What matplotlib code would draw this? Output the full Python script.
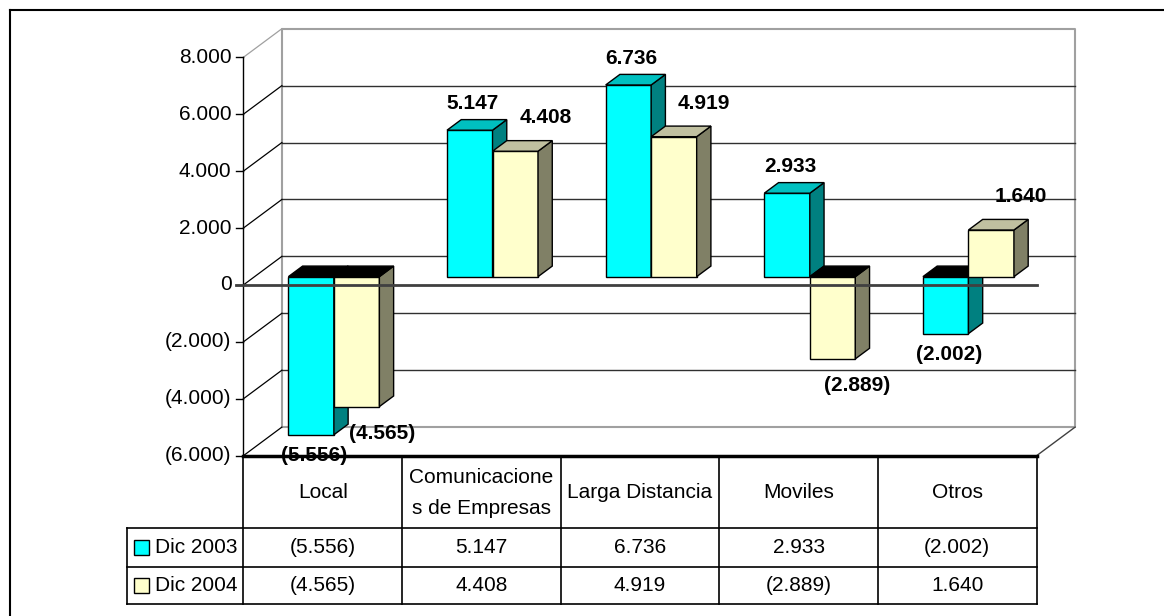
import matplotlib
matplotlib.use('Agg')
import matplotlib.pyplot as plt
from matplotlib.patches import Polygon, Rectangle
from matplotlib.lines import Line2D

# ---------------- data ----------------
categories = ["Local", "Comunicacione\ns de Empresas", "Larga Distancia", "Moviles", "Otros"]
series_names = ["Dic 2003", "Dic 2004"]
dic_2003 = [-5556, 5147, 6736, 2933, -2002]
dic_2004 = [-4565, 4408, 4919, -2889, 1640]
y_ticks = [-6000, -4000, -2000, 0, 2000, 4000, 6000, 8000]

# ---------------- style ----------------
FONT = 'Liberation Sans'
FS = 15
plt.rcParams['font.family'] = [FONT, 'DejaVu Sans']
front_cols = ['#00FFFF', '#FFFFCC']
top_cols = ['#00C0C0', '#C0C0A0']
side_cols = ['#008080', '#808066']


def fmt(v):
    s = f"{abs(v):,.0f}".replace(',', '.')
    return f"({s})" if v < 0 else s


W_PX, H_PX = 1164, 616
fig = plt.figure(figsize=(W_PX / 100, H_PX / 100), dpi=100)

AX_L, AX_R, AX_T, AX_B = 243.4, 1036.6, 57.3, 455.7
ax = fig.add_axes([AX_L / W_PX, 1 - AX_B / H_PX, (AX_R - AX_L) / W_PX, (AX_B - AX_T) / H_PX])
n = len(categories)
ymin, ymax = y_ticks[0], y_ticks[-1]
ax.set_xlim(0, n)
ax.set_ylim(ymin, ymax)
ax.axis('off')

px_per_cat = (AX_R - AX_L) / n
px_per_val = (AX_B - AX_T) / (ymax - ymin)
DX = 38.5 / px_per_cat      # wall depth in category units
DY = 28.6 / px_per_val      # wall depth in value units

# ---------------- walls ----------------
edge_gray = '#a0a0a0'
ax.plot([DX, DX, n + DX, n + DX, DX], [ymin + DY, ymax + DY, ymax + DY, ymin + DY, ymin + DY],
        color=edge_gray, lw=1.5, clip_on=False, zorder=1)
for t in y_ticks[1:-1]:
    ax.plot([DX, n + DX], [t + DY, t + DY], color='#303030', lw=1.0, clip_on=False, zorder=1)
for t in y_ticks:
    c = edge_gray if t == ymax else 'black'
    ax.plot([0, DX], [t, t + DY], color=c, lw=0.9, clip_on=False, zorder=1)
# floor right edge
ax.plot([n, n + DX], [ymin, ymin + DY], color='#404040', lw=1.0, clip_on=False, zorder=1)

# front axis + ticks
ax.plot([0, 0], [ymin, ymax], color='black', lw=1.0, clip_on=False, zorder=2)
tick_len = 7 / px_per_cat
for t in y_ticks:
    ax.plot([-tick_len, 0], [t, t], color='black', lw=1.0, clip_on=False, zorder=2)
    ax.text(-12 / px_per_cat, t, fmt(t), ha='right', va='center', fontsize=FS, clip_on=False)

# ---------------- bars ----------------
bw = 45.5 / px_per_cat
d0, dd = 0.29, 0.37
z = 3
series = [dic_2003, dic_2004]
label_off_pos = [(3, 16), (30, 23)]
label_off_neg = [(3, -21), (25, -27)]
for i in range(n):
    for s, vals in enumerate(series):
        v = vals[i]
        x0 = i + 0.5 - bw + s * bw + d0 * DX
        o0 = d0 * DY
        ddx, ddy = dd * DX, dd * DY
        # front face
        ax.add_patch(Rectangle((x0, o0), bw, v, facecolor=front_cols[s], edgecolor='black',
                               lw=1.0, zorder=z, clip_on=False))
        # side face
        ax.add_patch(Polygon([(x0 + bw, o0), (x0 + bw, v + o0), (x0 + bw + ddx, v + o0 + ddy),
                              (x0 + bw + ddx, o0 + ddy)], closed=True, facecolor=side_cols[s],
                             edgecolor='black', lw=1.0, zorder=z, clip_on=False))
        # top face
        yt = max(v, 0) + o0
        tc = top_cols[s] if v > 0 else 'black'
        ax.add_patch(Polygon([(x0, yt), (x0 + bw, yt), (x0 + bw + ddx, yt + ddy), (x0 + ddx, yt + ddy)],
                             closed=True, facecolor=tc, edgecolor='black', lw=1.0, zorder=z,
                             clip_on=False))
        z += 1
        # label
        cx = x0 + bw / 2
        if v >= 0:
            anchor = (cx, v + o0 + ddy)
            off = label_off_pos[s]
        else:
            anchor = (cx, v + o0)
            off = label_off_neg[s]
        ax.annotate(fmt(v), xy=anchor, xytext=off, textcoords='offset pixels', ha='center',
                    va='center', fontsize=FS, fontweight='bold', zorder=50, annotation_clip=False)

# front zero line (over bars)
ax.plot([-tick_len, n], [0, 0], color='#404040', lw=2.0, clip_on=False, zorder=40)

# ---------------- data table ----------------
T_L, T_T, T_B = 127.4, 455.7, 604.0
tax = fig.add_axes([T_L / W_PX, 1 - T_B / H_PX, (AX_R - T_L) / W_PX, (T_B - T_T) / H_PX])
xl = -(AX_L - T_L) / px_per_cat
tax.set_xlim(xl, n)
tax.set_ylim(T_B - T_T, 0)
tax.axis('off')
rows = [0, 72.6, 111.6, T_B - T_T]
tax.plot([0, n], [0, 0], color='black', lw=2.5, clip_on=False, zorder=5)
for r in rows[1:]:
    tax.plot([xl, n], [r, r], color='black', lw=1.2, clip_on=False)
for c in range(n + 1):
    tax.plot([c, c], [0, rows[-1]], color='black', lw=1.2, clip_on=False)
tax.plot([xl, xl], [rows[1], rows[-1]], color='black', lw=1.2, clip_on=False)

for i, cat in enumerate(categories):
    tax.text(i + 0.5, rows[1] / 2 + 1, cat, ha='center', va='center', fontsize=FS,
             linespacing=1.75)
for s, vals in enumerate(series):
    yc = (rows[s + 1] + rows[s + 2]) / 2
    tax.add_patch(Rectangle((xl + 6.6 / px_per_cat, yc - 7.5), 15 / px_per_cat, 15,
                            facecolor=front_cols[s], edgecolor='black', lw=1.0, clip_on=False))
    tax.text(xl + 27.6 / px_per_cat, yc, series_names[s], ha='left', va='center', fontsize=FS)
    for i, v in enumerate(vals):
        tax.text(i + 0.5, yc, fmt(v), ha='center', va='center', fontsize=FS)

# ---------------- outer frame ----------------
fig.add_artist(Line2D([9.6 / W_PX, 9.6 / W_PX], [0, 1 - 10.3 / H_PX], transform=fig.transFigure,
                      color='black', lw=1.5))
fig.add_artist(Line2D([9.6 / W_PX, 1], [1 - 10.3 / H_PX, 1 - 10.3 / H_PX], transform=fig.transFigure,
                      color='black', lw=1.5))

fig.savefig('out.png', dpi=100, facecolor='white')
